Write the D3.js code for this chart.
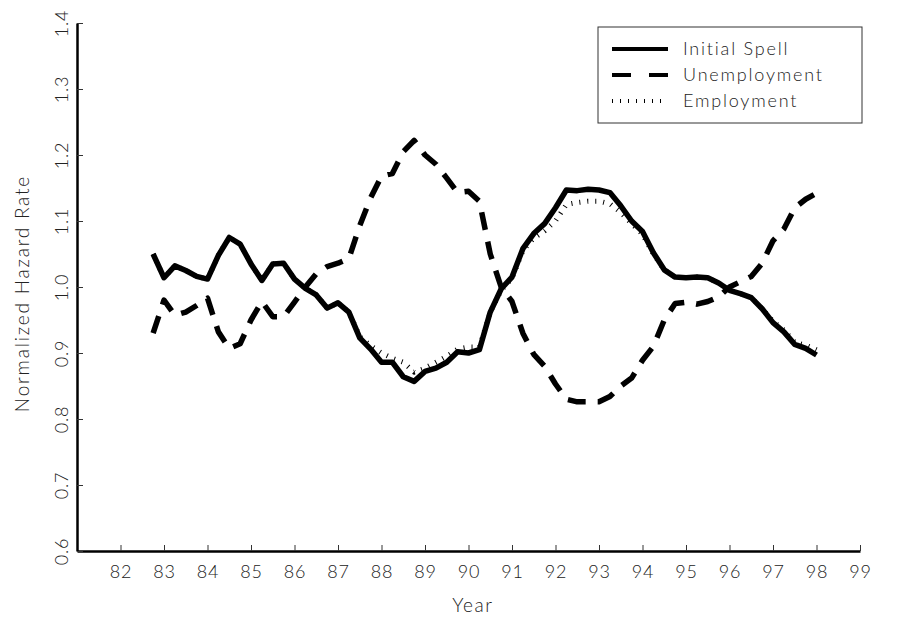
<!DOCTYPE html>
<html>
<head>
<meta charset="utf-8">
<script src="https://cdn.jsdelivr.net/npm/d3@7"></script>
<style>
  body { margin: 0; background: #fff; }
  svg text { font-family: "Lato", "DejaVu Sans", sans-serif; font-weight: 300; fill: #222; }
</style>
</head>
<body>
<script>
// quarterly observations, 1982Q4 .. 1998Q1
const years = [
  82.75,
  83.0, 83.25, 83.5, 83.75,
  84.0, 84.25, 84.5, 84.75,
  85.0, 85.25, 85.5, 85.75,
  86.0, 86.25, 86.5, 86.75,
  87.0, 87.25, 87.5, 87.75,
  88.0, 88.25, 88.5, 88.75,
  89.0, 89.25, 89.5, 89.75,
  90.0, 90.25, 90.5, 90.75,
  91.0, 91.25, 91.5, 91.75,
  92.0, 92.25, 92.5, 92.75,
  93.0, 93.25, 93.5, 93.75,
  94.0, 94.25, 94.5, 94.75,
  95.0, 95.25, 95.5, 95.75,
  96.0, 96.25, 96.5, 96.75,
  97.0, 97.25, 97.5, 97.75,
  98.0
];

const initialSpell = [
  1.050,
  1.014, 1.032, 1.025, 1.016,
  1.012, 1.048, 1.075, 1.065,
  1.035, 1.010, 1.035, 1.036,
  1.012, 0.998, 0.988, 0.968,
  0.976, 0.962, 0.923, 0.906,
  0.886, 0.886, 0.864, 0.857,
  0.872, 0.877, 0.886, 0.902,
  0.900, 0.905, 0.962, 0.997,
  1.015, 1.058, 1.081, 1.096,
  1.120, 1.147, 1.146, 1.148,
  1.147, 1.143, 1.123, 1.100,
  1.084, 1.052, 1.026, 1.015,
  1.014, 1.015, 1.014, 1.006,
  0.995, 0.990, 0.984, 0.967,
  0.946, 0.932, 0.913, 0.907,
  0.897
];

const unemployment = [
  0.930,
  0.980, 0.957, 0.962, 0.972,
  0.983, 0.932, 0.907, 0.914,
  0.950, 0.978, 0.955, 0.955,
  0.977, 1.000, 1.020, 1.031,
  1.036, 1.043, 1.093, 1.135,
  1.168, 1.172, 1.205, 1.222,
  1.200, 1.186, 1.165, 1.143,
  1.145, 1.130, 1.050, 1.000,
  0.978, 0.930, 0.898, 0.880,
  0.853, 0.830, 0.826, 0.826,
  0.826, 0.834, 0.850, 0.862,
  0.889, 0.910, 0.950, 0.975,
  0.977, 0.974, 0.978, 0.985,
  1.000, 1.008, 1.016, 1.036,
  1.070, 1.088, 1.120, 1.133,
  1.142
];

const employment = [
  1.050,
  1.014, 1.032, 1.025, 1.016,
  1.012, 1.048, 1.075, 1.065,
  1.035, 1.010, 1.035, 1.036,
  1.012, 0.998, 0.988, 0.968,
  0.976, 0.962, 0.925, 0.911,
  0.900, 0.892, 0.886, 0.871,
  0.877, 0.886, 0.895, 0.906,
  0.909, 0.909, 0.962, 0.995,
  1.013, 1.055, 1.074, 1.085,
  1.100, 1.125, 1.128, 1.130,
  1.130, 1.126, 1.113, 1.096,
  1.080, 1.050, 1.026, 1.015,
  1.014, 1.015, 1.014, 1.006,
  0.995, 0.990, 0.984, 0.967,
  0.948, 0.935, 0.916, 0.912,
  0.905
];

const xTicks = [82, 83, 84, 85, 86, 87, 88, 89, 90, 91, 92, 93, 94, 95, 96, 97, 98, 99];
const yTicks = [0.6, 0.7, 0.8, 0.9, 1.0, 1.1, 1.2, 1.3, 1.4];
const legendNames = ["Initial Spell", "Unemployment", "Employment"];

const width = 900, height = 618;
const svg = d3.select("body").append("svg").attr("width", width).attr("height", height);

const x = d3.scaleLinear().domain([81, 99]).range([77, 860]);
const y = d3.scaleLinear().domain([0.6, 1.4]).range([551, 23]);

// styles for the three series
const styles = [
  {width: 5.5, dash: null},
  {width: 5.5, dash: "18,12"},
  {width: 5, dash: "1,7"}
];

// series: draw employment first so the solid line sits on top
const series = [
  {vals: employment, style: styles[2]},
  {vals: unemployment, style: styles[1]},
  {vals: initialSpell, style: styles[0]}
];

const line = d3.line().x(d => x(d[0])).y(d => y(d[1]));

series.forEach(s => {
  svg.append("path")
    .datum(years.map((yr, i) => [yr, s.vals[i]]))
    .attr("d", line)
    .attr("fill", "none")
    .attr("stroke", "#000")
    .attr("stroke-width", s.style.width)
    .attr("stroke-linejoin", "round")
    .attr("stroke-dasharray", s.style.dash);
});

// X axis
const xAxis = svg.append("g")
  .attr("transform", "translate(0," + y(0.6) + ")")
  .call(d3.axisBottom(x).tickValues(xTicks).tickSizeInner(-6).tickSizeOuter(0).tickPadding(14).tickFormat(d3.format("d")));
xAxis.select(".domain").attr("stroke", "#000").attr("stroke-width", 2.5);
xAxis.selectAll(".tick line").attr("stroke", "#333");
xAxis.selectAll("text").attr("font-size", 18).attr("letter-spacing", 0.8);

// Y axis
const yAxis = svg.append("g")
  .attr("transform", "translate(" + x(81) + ",0)")
  .call(d3.axisLeft(y).tickValues(yTicks).tickSizeInner(-6).tickSizeOuter(0).tickPadding(0).tickFormat(d3.format(".1f")));
yAxis.select(".domain").attr("stroke", "#000").attr("stroke-width", 2.5);
yAxis.selectAll(".tick line").attr("stroke", "#333");
yAxis.selectAll("text")
  .attr("font-size", 18)
  .attr("letter-spacing", 0.8)
  .attr("text-anchor", "middle")
  .attr("x", 0).attr("dy", "0.35em")
  .attr("transform", "translate(-15,0) rotate(-90)");

// axis titles
svg.append("text")
  .attr("x", x(90.1)).attr("y", 612)
  .attr("text-anchor", "middle")
  .attr("font-size", 19).attr("letter-spacing", 1.5)
  .text("Year");

svg.append("text")
  .attr("transform", "translate(29," + y(0.99) + ") rotate(-90)")
  .attr("text-anchor", "middle")
  .attr("font-size", 19).attr("letter-spacing", 1.8)
  .text("Normalized Hazard Rate");

// legend
const legend = svg.append("g");
legend.append("rect")
  .attr("x", 598).attr("y", 27).attr("width", 264).attr("height", 96)
  .attr("fill", "#fff").attr("stroke", "#333").attr("stroke-width", 1);

styles.forEach((st, i) => {
  const ly = 49 + i * 26;
  legend.append("line")
    .attr("x1", 612).attr("x2", 668).attr("y1", ly).attr("y2", ly)
    .attr("stroke", "#000")
    .attr("stroke-width", 4)
    .attr("stroke-dasharray", i === 1 ? "19,18" : (i === 2 ? "1,7" : null));
  legend.append("text")
    .attr("x", 683).attr("y", ly + 6)
    .attr("font-size", 18).attr("letter-spacing", 1.8)
    .text(legendNames[i]);
});
</script>
</body>
</html>
